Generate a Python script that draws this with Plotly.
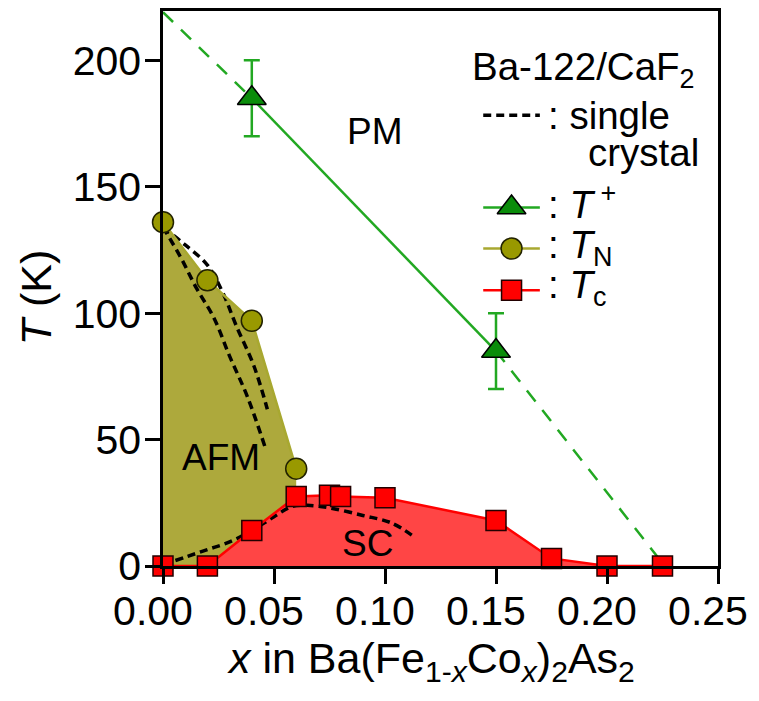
import plotly.graph_objects as go

# ---------------- data ----------------
# T+ (green triangles)
tplus_x = [0.04, 0.15]
tplus_T = [185, 85]
tplus_err = [15, 15]
# extrapolation ends of the T+ line (dashed)
tplus_ext_x = [0.0, 0.226]
tplus_ext_T = [219, 0]

# T_N (olive circles)
tn_x = [0.0, 0.02, 0.04, 0.06]
tn_T = [136, 113, 97, 38.5]

# T_c (red squares)
tc_x = [0.0, 0.02, 0.04, 0.06, 0.075, 0.08, 0.10, 0.15, 0.175, 0.20, 0.225]
tc_T = [0, 0, 14, 27.5, 28, 27.5, 27, 18, 3, 0, 0]

# single crystal reference curves (dotted)
sc_tn1_x = [0.0, 0.008, 0.015, 0.023, 0.030, 0.038, 0.046]
sc_tn1_T = [134, 122, 110, 98, 83, 67, 47]
sc_tn2_x = [0.0, 0.010, 0.020, 0.027, 0.033, 0.041, 0.047]
sc_tn2_T = [134, 127, 119, 108, 95, 79, 62]
sc_tc_x = [0.0, 0.01, 0.02, 0.03, 0.04, 0.05, 0.058, 0.065, 0.075, 0.09, 0.103, 0.114]
sc_tc_T = [0.5, 3.5, 6.5, 9.5, 14, 19.5, 23.5, 24, 23, 20, 17, 11]

x_ticks = [0.0, 0.05, 0.10, 0.15, 0.20, 0.25]
x_ticklabels = ["0.00", "0.05", "0.10", "0.15", "0.20", "0.25"]
y_ticks = [0, 50, 100, 150, 200]

# ---------------- styles ----------------
FONT = "Liberation Sans, Arial, sans-serif"
GREEN_LINE = "#22A822"
GREEN_MARK = "#0A8C0A"
OLIVE_FILL = "#ADA93C"
OLIVE_LINE = "#A8A830"
OLIVE_MARK = "#999900"
RED_FILL = "#FF4545"
RED_LINE = "#FF0000"
RED_MARK = "#FF0000"
DOT = "8px,5px"

fig = go.Figure()

# AFM region (olive)
fig.add_trace(go.Scatter(
    x=tn_x + [tn_x[-1], tn_x[0]], y=tn_T + [0, 0],
    mode="lines", fill="toself", fillcolor=OLIVE_FILL,
    line=dict(width=0), hoverinfo="skip", showlegend=False))
# SC region (red)
fig.add_trace(go.Scatter(
    x=tc_x + [tc_x[-1], tc_x[0]], y=tc_T + [0, 0],
    mode="lines", fill="toself", fillcolor=RED_FILL,
    line=dict(width=0), hoverinfo="skip", showlegend=False))

# T+ dashed extrapolation
fig.add_trace(go.Scatter(
    x=[tplus_ext_x[0], tplus_x[0], None, tplus_x[-1], tplus_ext_x[1]],
    y=[tplus_ext_T[0], tplus_T[0], None, tplus_T[-1], tplus_ext_T[1]],
    mode="lines", line=dict(color=GREEN_LINE, width=2.5, dash="14px,11px"),
    showlegend=False))

# single crystal dotted lines
for xs, ys in [(sc_tn1_x, sc_tn1_T), (sc_tn2_x, sc_tn2_T), (sc_tc_x, sc_tc_T)]:
    fig.add_trace(go.Scatter(x=xs, y=ys, mode="lines",
                             line=dict(color="black", width=3.5, dash=DOT, shape="spline"),
                             showlegend=False))

# T_N
fig.add_trace(go.Scatter(
    x=tn_x, y=tn_T, mode="lines+markers",
    line=dict(color=OLIVE_LINE, width=2.5),
    marker=dict(symbol="circle", size=21, color=OLIVE_MARK, line=dict(color="#222200", width=1.5)),
    cliponaxis=False, showlegend=False))
# T_c
fig.add_trace(go.Scatter(
    x=tc_x, y=tc_T, mode="lines+markers",
    line=dict(color=RED_LINE, width=2.5),
    marker=dict(symbol="square", size=20, color=RED_MARK, line=dict(color="#220000", width=1.5)),
    cliponaxis=False, showlegend=False))
# T+
fig.add_trace(go.Scatter(
    x=tplus_x, y=tplus_T, mode="lines+markers",
    line=dict(color=GREEN_LINE, width=2.5),
    error_y=dict(type="data", array=tplus_err, color=GREEN_LINE, thickness=2.5, width=8),
    marker=dict(symbol="triangle-up", size=25, color=GREEN_MARK, line=dict(color="black", width=1.5)),
    cliponaxis=False, showlegend=False))

# ---------- hand-made legend on an overlay (0..1) axis ----------
LX0, LX1, LXM = 0.577, 0.679, 0.628
fig.add_trace(go.Scatter(x=[LX0, LX1], y=[0.812, 0.812], xaxis="x2", yaxis="y2",
                         mode="lines", line=dict(color="black", width=3.5, dash=DOT), showlegend=False))
leg = [
    (0.646, GREEN_LINE, "triangle-up", 25, GREEN_MARK, "black"),
    (0.572, OLIVE_LINE, "circle", 21, OLIVE_MARK, "#222200"),
    (0.497, RED_LINE, "square", 20, RED_MARK, "#220000"),
]
for yy, lc, sym, sz, mc, oc in leg:
    fig.add_trace(go.Scatter(x=[LX0, LX1], y=[yy, yy], xaxis="x2", yaxis="y2",
                             mode="lines", line=dict(color=lc, width=2.5), showlegend=False))
    fig.add_trace(go.Scatter(x=[LXM], y=[yy], xaxis="x2", yaxis="y2", mode="markers",
                             marker=dict(symbol=sym, size=sz, color=mc, line=dict(color=oc, width=1.5)),
                             showlegend=False))

ann_font = dict(family=FONT, size=38.5, color="black")
annotations = [
    dict(text="Ba-122/CaF<sub>2</sub>", xref="paper", yref="paper", x=0.553, y=0.895,
         xanchor="left", yanchor="middle", showarrow=False, font=ann_font),
    dict(text=": single", xref="paper", yref="paper", x=0.69, y=0.812,
         xanchor="left", yanchor="middle", showarrow=False, font=ann_font),
    dict(text="crystal", xref="paper", yref="paper", x=0.762, y=0.745,
         xanchor="left", yanchor="middle", showarrow=False, font=ann_font),
    dict(text=": <i>T</i><sup> +</sup>", xref="paper", yref="paper", x=0.69, y=0.655,
         xanchor="left", yanchor="middle", showarrow=False, font=ann_font),
    dict(text=": <i>T</i><sub>N</sub>", xref="paper", yref="paper", x=0.69, y=0.573,
         xanchor="left", yanchor="middle", showarrow=False, font=ann_font),
    dict(text=": <i>T</i><sub>c</sub>", xref="paper", yref="paper", x=0.69, y=0.502,
         xanchor="left", yanchor="middle", showarrow=False, font=ann_font),
    dict(text="PM", xref="x", yref="y", x=0.0955, y=172, showarrow=False,
         font=dict(family=FONT, size=37, color="black")),
    dict(text="AFM", xref="x", yref="y", x=0.026, y=43, showarrow=False,
         font=dict(family=FONT, size=37, color="black")),
    dict(text="SC", xref="x", yref="y", x=0.092, y=9, showarrow=False,
         font=dict(family=FONT, size=37, color="black")),
    # axis titles
    dict(text="<i>T</i> (K)", xref="paper", yref="paper", x=-0.229, y=0.484,
         textangle=-90, showarrow=False, xanchor="center", yanchor="middle",
         font=dict(family=FONT, size=43, color="black")),
    dict(text="<i>x</i> in Ba(Fe<sub>1-<i>x</i></sub>Co<sub><i>x</i></sub>)<sub>2</sub>As<sub>2</sub>",
         xref="paper", yref="paper", x=0.483, y=-0.172, showarrow=False,
         xanchor="center", yanchor="middle", font=dict(family=FONT, size=43, color="black")),
]

axis_common = dict(showgrid=False, zeroline=False, showline=True, linecolor="black",
                   linewidth=2.5, mirror=True, ticks="outside", ticklen=15, tickwidth=2.5,
                   tickcolor="black", automargin=False,
                   tickfont=dict(family=FONT, size=41, color="black"))

fig.update_layout(
    width=759, height=701,
    margin=dict(l=155, r=49, t=3, b=143, autoexpand=False),
    paper_bgcolor="white", plot_bgcolor="white",
    xaxis=dict(range=[0, 0.25], tickvals=x_ticks, ticktext=x_ticklabels,
               ticklabelstandoff=-8, ticklabelshift=-10, **axis_common),
    yaxis=dict(range=[0, 219.5], tickvals=y_ticks, ticklabelstandoff=-4, **axis_common),
    xaxis2=dict(overlaying="x", range=[0, 1], visible=False),
    yaxis2=dict(overlaying="y", range=[0, 1], visible=False),
    annotations=annotations,
    showlegend=False,
)

fig.write_html("out.html")
